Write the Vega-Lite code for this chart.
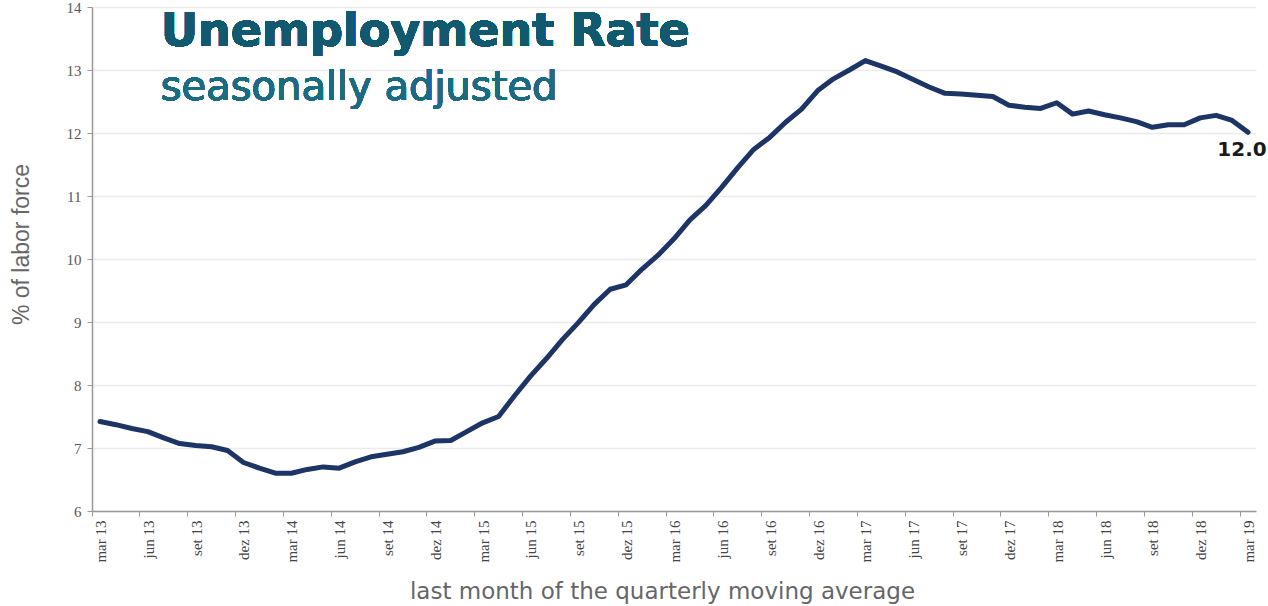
{
  "$schema": "https://vega.github.io/schema/vega-lite/v6.json",
  "width": 1268,
  "height": 606,
  "autosize": {"type": "fit", "contains": "padding"},
  "padding": {"left": 10, "top": 0, "right": 2, "bottom": 2},
  "background": "white",
  "config": {"view": {"stroke": null}},
  "data": {"values": [
    {"m": "mar 13", "v": 7.42}, {"m": "abr 13", "v": 7.37}, {"m": "mai 13", "v": 7.31}, {"m": "jun 13", "v": 7.26},
    {"m": "jul 13", "v": 7.16}, {"m": "ago 13", "v": 7.07}, {"m": "set 13", "v": 7.04}, {"m": "out 13", "v": 7.02},
    {"m": "nov 13", "v": 6.96}, {"m": "dez 13", "v": 6.77}, {"m": "jan 14", "v": 6.68}, {"m": "fev 14", "v": 6.6},
    {"m": "mar 14", "v": 6.6}, {"m": "abr 14", "v": 6.66}, {"m": "mai 14", "v": 6.7}, {"m": "jun 14", "v": 6.68},
    {"m": "jul 14", "v": 6.78}, {"m": "ago 14", "v": 6.86}, {"m": "set 14", "v": 6.9}, {"m": "out 14", "v": 6.94},
    {"m": "nov 14", "v": 7.01}, {"m": "dez 14", "v": 7.11}, {"m": "jan 15", "v": 7.12}, {"m": "fev 15", "v": 7.26},
    {"m": "mar 15", "v": 7.4}, {"m": "abr 15", "v": 7.5}, {"m": "mai 15", "v": 7.83}, {"m": "jun 15", "v": 8.14},
    {"m": "jul 15", "v": 8.42}, {"m": "ago 15", "v": 8.72}, {"m": "set 15", "v": 8.99}, {"m": "out 15", "v": 9.28},
    {"m": "nov 15", "v": 9.52}, {"m": "dez 15", "v": 9.59}, {"m": "jan 16", "v": 9.84}, {"m": "fev 16", "v": 10.06},
    {"m": "mar 16", "v": 10.32}, {"m": "abr 16", "v": 10.62}, {"m": "mai 16", "v": 10.85}, {"m": "jun 16", "v": 11.14},
    {"m": "jul 16", "v": 11.45}, {"m": "ago 16", "v": 11.74}, {"m": "set 16", "v": 11.93}, {"m": "out 16", "v": 12.17},
    {"m": "nov 16", "v": 12.38}, {"m": "dez 16", "v": 12.67}, {"m": "jan 17", "v": 12.86}, {"m": "fev 17", "v": 13.0},
    {"m": "mar 17", "v": 13.15}, {"m": "abr 17", "v": 13.06}, {"m": "mai 17", "v": 12.97}, {"m": "jun 17", "v": 12.85},
    {"m": "jul 17", "v": 12.73}, {"m": "ago 17", "v": 12.63}, {"m": "set 17", "v": 12.62}, {"m": "out 17", "v": 12.6},
    {"m": "nov 17", "v": 12.58}, {"m": "dez 17", "v": 12.44}, {"m": "jan 18", "v": 12.41}, {"m": "fev 18", "v": 12.39},
    {"m": "mar 18", "v": 12.48}, {"m": "abr 18", "v": 12.3}, {"m": "mai 18", "v": 12.35}, {"m": "jun 18", "v": 12.29},
    {"m": "jul 18", "v": 12.24}, {"m": "ago 18", "v": 12.18}, {"m": "set 18", "v": 12.09}, {"m": "out 18", "v": 12.13},
    {"m": "nov 18", "v": 12.13}, {"m": "dez 18", "v": 12.24}, {"m": "jan 19", "v": 12.28}, {"m": "fev 19", "v": 12.2},
    {"m": "mar 19", "v": 12.01}
  ]},
  "encoding": {
    "x": {
      "field": "m", "type": "ordinal", "sort": null,
      "scale": {"type": "band", "paddingInner": 0, "paddingOuter": 0},
      "axis": {
        "values": ["mar 13","jun 13","set 13","dez 13","mar 14","jun 14","set 14","dez 14","mar 15","jun 15","set 15","dez 15","mar 16","jun 16","set 16","dez 16","mar 17","jun 17","set 17","dez 17","mar 18","jun 18","set 18","dez 18","mar 19"],
        "bandPosition": 0,
        "labelOffset": 1,
        "labelAngle": -90,
        "labelFont": "Liberation Serif",
        "labelFontSize": 15,
        "labelColor": "#444444",
        "labelPadding": 4,
        "tickSize": 5,
        "tickColor": "#999999",
        "domainColor": "#999999",
        "domainWidth": 1.5,
        "grid": false,
        "title": "last month of the quarterly moving average",
        "titleFont": "DejaVu Sans",
        "titleFontSize": 23,
        "titleFontWeight": "normal",
        "titleColor": "#666666",
        "titlePadding": 18,
        "titleX": 570
      }
    },
    "y": {
      "field": "v", "type": "quantitative",
      "scale": {"domain": [6, 14], "nice": false, "zero": false},
      "axis": {
        "values": [6,7,8,9,10,11,12,13,14],
        "labelFont": "Liberation Serif",
        "labelFontSize": 15,
        "labelColor": "#595959",
        "labelPadding": 6,
        "tickSize": 5,
        "tickColor": "#999999",
        "domainColor": "#999999",
        "domainWidth": 1.5,
        "grid": true,
        "gridColor": "#ebebeb",
        "gridWidth": 1.5,
        "title": "% of labor force",
        "titleFont": "Liberation Sans",
        "titleFontSize": 23,
        "titleFontWeight": "normal",
        "titleColor": "#666666",
        "titlePadding": 33,
        "titleY": 237
      }
    }
  },
  "layer": [
    {
      "mark": {"type": "line", "color": "#1c3466", "strokeWidth": 5, "strokeCap": "round", "strokeJoin": "round"}
    },
    {
      "transform": [{"filter": "datum.m === 'mar 19'"}],
      "mark": {"type": "text", "font": "DejaVu Sans", "fontWeight": "bold", "fontSize": 20, "color": "#1a1a1a", "align": "center", "baseline": "alphabetic", "dx": -6, "dy": 24},
      "encoding": {"text": {"field": "v", "type": "quantitative", "format": ".1f"}}
    },
    {
      "mark": {"type": "text", "font": "DejaVu Sans", "fontWeight": "bold", "fontSize": 46, "color": "#11596f", "align": "left", "baseline": "alphabetic", "dx": -3},
      "encoding": {
        "x": {"datum": "jul 13", "type": "ordinal"},
        "y": {"datum": 13.38, "type": "quantitative"},
        "text": {"value": "Unemployment Rate"}
      }
    },
    {
      "mark": {"type": "text", "font": "DejaVu Sans", "fontSize": 40, "color": "#1b6b82", "align": "left", "baseline": "alphabetic", "dx": -3},
      "encoding": {
        "x": {"datum": "jul 13", "type": "ordinal"},
        "y": {"datum": 12.52, "type": "quantitative"},
        "text": {"value": "seasonally adjusted"}
      }
    }
  ]
}
